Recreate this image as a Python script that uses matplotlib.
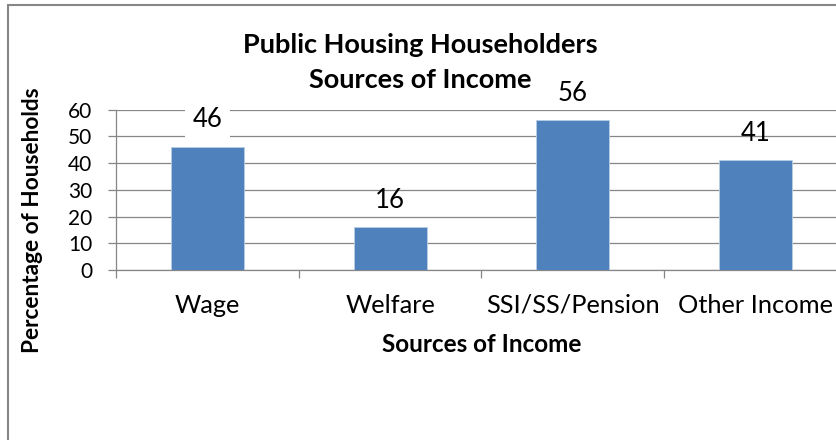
import matplotlib
matplotlib.use('Agg')
from matplotlib import pyplot as plt
from matplotlib.patches import Rectangle

# chart data
categories = ['Wage', 'Welfare', 'SSI/SS/Pension', 'Other Income']
percent = [46, 16, 56, 41]
y_ticks = [0, 10, 20, 30, 40, 50, 60]

BAR_COLOR = '#4F81BD'
GRID_COLOR = '#868686'

plt.rcParams['font.family'] = ['Lato', 'DejaVu Sans']

W, H = 837, 440
fig = plt.figure(figsize=(W / 100, H / 100), dpi=100)

# plot area: y axis at x=116px, 0 at y=270px, 60 at y=109.5px, last tick past the right edge
left, right, bottom, top = 116, 847, 270, 109.5
ax = fig.add_axes([left / W, 1 - bottom / H, (right - left) / W, (bottom - top) / H])

xs = list(range(len(categories)))
ax.bar(xs, percent, width=0.4, color=BAR_COLOR, edgecolor='#B9CDE5', linewidth=0.6, zorder=3)

ax.set_xlim(-0.5, len(categories) - 0.5)
ax.set_ylim(0, 60)
ax.set_yticks(y_ticks)
ax.yaxis.grid(True, color=GRID_COLOR, linewidth=0.9, zorder=0)
ax.set_axisbelow(True)

# category boundaries get the tick marks, names sit between them
ax.set_xticks([x - 0.5 for x in xs] + [len(categories) - 0.5])
ax.set_xticklabels([])
ax.set_xticks(xs, minor=True)
ax.set_xticklabels(categories, minor=True, fontsize=18.3)
ax.tick_params(axis='x', which='major', direction='out', length=6, width=0.9, color=GRID_COLOR)
ax.tick_params(axis='x', which='minor', length=0, pad=17)
ax.tick_params(axis='y', direction='out', length=6, width=0.9, color=GRID_COLOR,
               labelsize=15, pad=11)

for side in ['top', 'right']:
    ax.spines[side].set_visible(False)
for side in ['left', 'bottom']:
    ax.spines[side].set_color(GRID_COLOR)
    ax.spines[side].set_linewidth(0.9)

for i, v in enumerate(percent):
    box = None
    if i == 0:
        box = dict(boxstyle='square,pad=0.3', facecolor='white', edgecolor='none')
    ax.annotate(str(v), (i, v), xytext=(0, 19.5), textcoords='offset points',
                ha='center', va='center', fontsize=18.5, bbox=box, zorder=4)

ax.set_xlabel('Sources of Income', fontsize=17.5, fontweight='bold')
ax.xaxis.set_label_coords(0.5, (bottom - 345) / (bottom - top))
ax.xaxis.label.set_verticalalignment('center')

ax.set_ylabel('Percentage of Households', fontsize=16.3, fontweight='bold')
ax.yaxis.set_label_coords((33 - left) / (right - left), (bottom - 220) / (bottom - top))
ax.yaxis.label.set_verticalalignment('center')

fig.text(420 / W, 1 - 53 / H, 'Public Housing Householders', ha='center', va='baseline',
         fontsize=19.5, fontweight='bold')
fig.text(420 / W, 1 - 88 / H, 'Sources of Income', ha='center', va='baseline',
         fontsize=19.5, fontweight='bold')

# chart frame (only the top and left edges fall inside the picture)
fig.patches.append(Rectangle((8.5 / W, -0.1), 2, 1.1 - 5.5 / H, transform=fig.transFigure,
                             fill=False, edgecolor=GRID_COLOR, linewidth=1.5))

fig.savefig('out.png', dpi=100)
